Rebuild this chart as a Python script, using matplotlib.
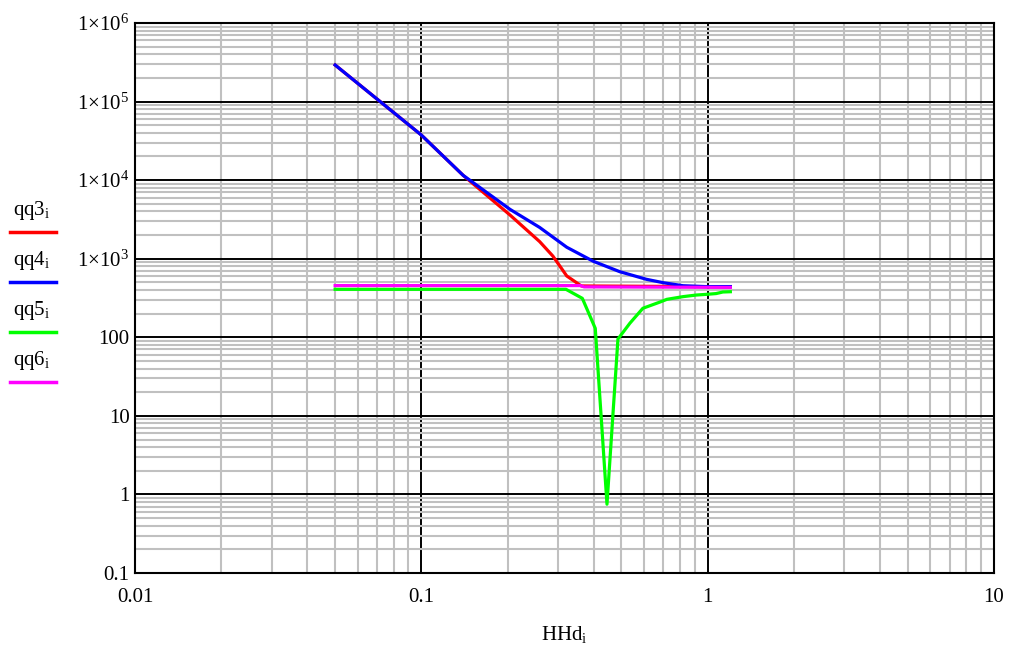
import numpy as np
import matplotlib
matplotlib.use("Agg")
import matplotlib.pyplot as plt
from matplotlib.lines import Line2D
from matplotlib.ticker import LogLocator, NullFormatter, FixedLocator

plt.rcParams['font.family'] = ['Liberation Serif', 'DejaVu Serif']
plt.rcParams['mathtext.fontset'] = 'custom'
plt.rcParams['mathtext.rm'] = 'Liberation Serif'
plt.rcParams['mathtext.it'] = 'Liberation Serif'

# qq3 - red
x_qq3 = [0.05, 0.1, 0.14, 0.204, 0.259, 0.288, 0.322, 0.362, 1.2]
y_qq3 = [2.92e5, 3.75e4, 1.15e4, 3600, 1650, 1080, 603, 450, 440]

# qq4 - blue
x_qq4 = [0.05, 0.1, 0.14, 0.204, 0.259, 0.322, 0.398, 0.45, 0.493, 0.611, 0.70, 0.82, 0.98, 1.2]
y_qq4 = [2.92e5, 3.75e4, 1.15e4, 4250, 2500, 1400, 930, 780, 684, 547, 495, 453, 442, 442]

# qq5 - green
x_qq5 = [0.05, 0.32, 0.365, 0.405, 0.445, 0.486, 0.535, 0.594, 0.68, 0.72, 0.82, 0.913,
         0.99, 1.07, 1.13, 1.2]
y_qq5 = [408, 408, 313, 130, 0.75, 95, 151, 234, 280, 304, 329, 345, 352, 360, 377, 380]

# qq6 - magenta
x_qq6 = [0.05, 0.36, 0.37, 1.2]
y_qq6 = [455, 455, 438, 432]

series = [
    (x_qq3, y_qq3, '#ff0000', r'$\mathrm{qq3_i}$'),
    (x_qq4, y_qq4, '#0000ff', r'$\mathrm{qq4_i}$'),
    (x_qq5, y_qq5, '#00ff00', r'$\mathrm{qq5_i}$'),
    (x_qq6, y_qq6, '#ff00ff', r'$\mathrm{qq6_i}$'),
]

y_ticks = [0.1, 1, 10, 100, 1e3, 1e4, 1e5, 1e6]
y_labels = ['0.1', '1', '10', '100', r'$\mathrm{1{\times}10^{3}}$', r'$\mathrm{1{\times}10^{4}}$',
            r'$\mathrm{1{\times}10^{5}}$', r'$\mathrm{1{\times}10^{6}}$']
x_ticks = [0.01, 0.1, 1, 10]
x_labels = ['0.01', '0.1', '1', '10']

W, H = 1019, 646
fig = plt.figure(figsize=(W / 100, H / 100), dpi=100)
ax = fig.add_axes([135 / W, 1 - 573 / H, (994 - 135) / W, (573 - 23) / H])
ax.set_xscale('log')
ax.set_yscale('log')
ax.set_xlim(0.01, 10)
ax.set_ylim(0.1, 1e6)

# grid
ax.xaxis.set_minor_locator(LogLocator(base=10, subs=np.arange(2, 10)))
ax.yaxis.set_minor_locator(LogLocator(base=10, subs=np.arange(2, 10), numticks=20))
ax.xaxis.set_minor_formatter(NullFormatter())
ax.yaxis.set_minor_formatter(NullFormatter())
ax.grid(True, which='minor', color='#c0c0c0', lw=1.5, zorder=1)
ax.grid(True, which='major', color='black', lw=1.4, zorder=1)
ax.set_axisbelow(True)

ax.xaxis.set_major_locator(FixedLocator(x_ticks))
ax.yaxis.set_major_locator(FixedLocator(y_ticks))
ax.set_xticklabels(x_labels)
ax.set_yticklabels(y_labels)
ax.tick_params(which='both', length=0, labelsize=15, colors='black')
ax.tick_params(axis='x', pad=11)
ax.tick_params(axis='y', pad=4)

for sp in ax.spines.values():
    sp.set_linewidth(1.5)
    sp.set_color('black')

for xs, ys, c, lab in series:
    ax.plot(xs, ys, color=c, lw=2.3, zorder=3)

ax.set_xlabel(r'$\mathrm{HHd_i}$', fontsize=15, labelpad=12)

# legend on the left, Mathcad style
for k, (xs, ys, c, lab) in enumerate(series):
    ty = 210 + 50 * k
    ly = 232 + 50 * k
    fig.text(13 / W, 1 - ty / H, lab, fontsize=15, ha='left', va='center')
    fig.add_artist(Line2D([10 / W, 56 / W], [1 - ly / H, 1 - ly / H], color=c, lw=2.5,
                          transform=fig.transFigure))

fig.savefig('out.png', dpi=100)
